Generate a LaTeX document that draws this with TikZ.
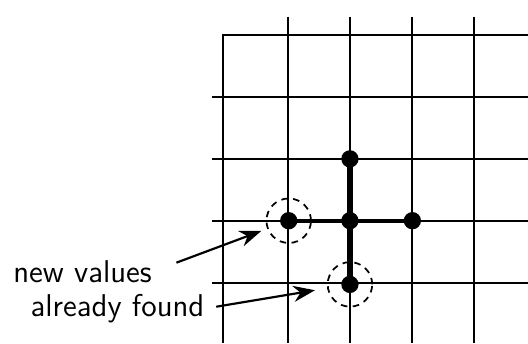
\documentclass[tikz,border=0pt]{standalone}
\usetikzlibrary{arrows.meta}
\tikzset{
  gridline/.style={line width=0.9pt},
  stencil/.style={line width=2.6pt},
  dot/.style={circle,fill=black,inner sep=0pt,minimum size=0.28cm},
  ring/.style={circle,draw,dash pattern=on 3pt off 2.5pt,line width=0.8pt,minimum size=0.72cm,inner sep=0pt},
  arr/.style={-{Stealth[length=3.5mm,width=2.6mm]},line width=1pt},
  lbl/.style={font=\sffamily\fontsize{14.5}{17}\selectfont,inner sep=0pt},
}

\begin{document}
\begin{tikzpicture}
\useasboundingbox (-5.66,-1.98) rectangle (2.88,3.57);
% grid
\foreach \x in {-1,0,1,2} \draw[gridline] (\x,3.3) -- (\x,-1.98);
\foreach \y in {-1,0,1,2} \draw[gridline] (-2.23,\y) -- (2.88,\y);
\draw[gridline] (-2.06,-1.98) -- (-2.06,3) -- (2.88,3);
% stencil
\draw[stencil] (0,1) -- (0,-1.03);
\draw[stencil,line width=2pt] (-0.99,0) -- (1.01,0);
\node[dot] (n) at (0,1) {};
\node[dot] (w) at (-0.99,0) {};
\node[dot] (c) at (0,0) {};
\node[dot] (e) at (1.01,0) {};
\node[dot] (s) at (0,-1.03) {};
\node[ring] (rw) at (w) {};
\node[ring] (rs) at (s) {};
% labels
\node[lbl,anchor=base east] (nv) at (-3.2,-1.0) {new values};
\node[lbl,anchor=base east] (af) at (-2.35,-1.55) {already found};
\draw[arr,shorten <=0.42cm,shorten >=0.1cm] (nv.east) -- (rw);
\draw[arr,shorten <=0.19cm,shorten >=0.2cm] (af.east) -- (rs);
\end{tikzpicture}
\end{document}
